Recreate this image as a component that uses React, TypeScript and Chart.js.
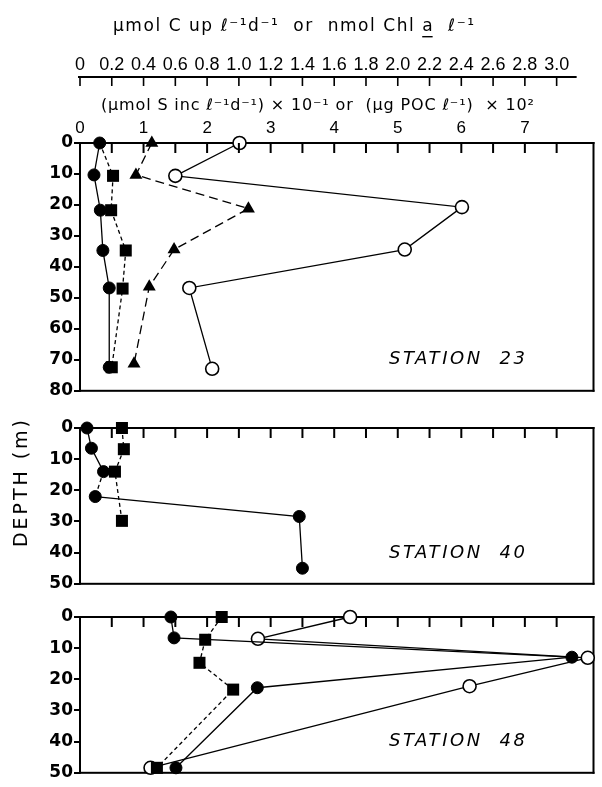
import React, { useEffect, useRef } from "react";
import { Chart, registerables } from "chart.js";

Chart.register(...registerables);

// ---------- scale / tick definitions ----------
const X_MAX = 8.08; // lower-scale units spanned by the frame
const UPPER_RATIO = 2.5; // lower units per upper unit (3.0 upper = 7.5 lower)
const lowerTickStep = 0.5;
const upperTickStep = 0.2;
const upperTickMax = 3.0;
const lowerLabelMax = 7;
const innerTickValues = [0.5, 1, 1.5, 2, 2.5, 3, 3.5, 4, 4.5, 5, 5.5, 6, 6.5, 7, 7.5];
const depthStep = 10;
const depthMax23 = 80;
const depthMax40 = 50;
const depthMax48 = 50;

// ---------- texts ----------
const upperTitleParts = ["μmol C up ℓ⁻¹d⁻¹  or  nmol Chl ", "a", "  ℓ⁻¹"];
const lowerTitle = "(μmol S inc ℓ⁻¹d⁻¹) × 10⁻¹ or  (μg POC ℓ⁻¹)  × 10²";
const depthTitle = "DEPTH (m)";
const stationNames = ["STATION  23", "STATION  40", "STATION  48"];

// ---------- data (x = value on lower scale, y = depth m) ----------
// Station 23
const st23CircleDepth = [0, 10.3, 21.7, 34.7, 46.8, 72.4];
const st23CircleValue = [0.31, 0.22, 0.32, 0.36, 0.46, 0.46];
const st23SquareDepth = [0, 10.6, 21.7, 34.7, 47, 72.4];
const st23SquareValue = [0.31, 0.52, 0.49, 0.72, 0.67, 0.5];
const st23TriangleDepth = [0, 10.3, 21.2, 34.4, 46.4, 71.3];
const st23TriangleValue = [1.13, 0.88, 2.65, 1.48, 1.09, 0.85];
const st23OpenDepth = [0, 10.6, 20.7, 34.4, 46.8, 72.9];
const st23OpenValue = [2.51, 1.5, 6.01, 5.11, 1.72, 2.08];
// Station 40
const st40CircleDepth = [0, 6.5, 14, 22, 28.4, 45];
const st40CircleValue = [0.11, 0.18, 0.37, 0.24, 3.45, 3.5];
const st40SquareDepth = [0, 6.8, 14, 29.8];
const st40SquareValue = [0.66, 0.69, 0.55, 0.66];
// Station 48
const st48CircleDepth = [0, 6.7, 12.9, 22.7, 48.4];
const st48CircleValue = [1.43, 1.48, 7.74, 2.79, 1.51];
const st48OpenDepth = [0, 7, 13.1, 22.2, 48.4];
const st48OpenValue = [4.25, 2.8, 7.99, 6.13, 1.11];
const st48SquareDepth = [0, 7.3, 14.7, 23.3, 48.4];
const st48SquareValue = [2.23, 1.97, 1.88, 2.41, 1.21];

const FONT = "'Liberation Sans', Arial, sans-serif";
const DJ = "'DejaVu Sans', sans-serif";

function pts(values: number[], depths: number[]) {
  return values.map((v, i) => ({ x: v, y: depths[i] }));
}

function filledCircle(values: number[], depths: number[], extra: any = {}) {
  return {
    data: pts(values, depths),
    showLine: true,
    borderColor: "#000",
    borderWidth: 1.3,
    pointStyle: "circle",
    pointRadius: 6,
    pointBackgroundColor: "#000",
    pointBorderColor: "#000",
    pointBorderWidth: 1,
    clip: false,
    fill: false,
    ...extra,
  };
}
function openCircle(values: number[], depths: number[], extra: any = {}) {
  return {
    data: pts(values, depths),
    showLine: true,
    borderColor: "#000",
    borderWidth: 1.3,
    pointStyle: "circle",
    pointRadius: 6.5,
    pointBackgroundColor: "#fff",
    pointBorderColor: "#000",
    pointBorderWidth: 1.6,
    clip: false,
    fill: false,
    ...extra,
  };
}
function square(values: number[], depths: number[], extra: any = {}) {
  return {
    data: pts(values, depths),
    showLine: true,
    borderColor: "#000",
    borderWidth: 1.3,
    borderDash: [4, 3],
    pointStyle: "rect",
    pointRadius: 8.5,
    pointBackgroundColor: "#000",
    pointBorderColor: "#000",
    pointBorderWidth: 0,
    clip: false,
    fill: false,
    ...extra,
  };
}
function triangle(values: number[], depths: number[], extra: any = {}) {
  return {
    data: pts(values, depths),
    showLine: true,
    borderColor: "#000",
    borderWidth: 1.3,
    borderDash: [9, 5],
    pointStyle: "triangle",
    pointRadius: 7.5,
    pointBackgroundColor: "#000",
    pointBorderColor: "#000",
    pointBorderWidth: 0,
    clip: false,
    fill: false,
    ...extra,
  };
}

function drawSpread(ctx: CanvasRenderingContext2D, text: string, x0: number, x1: number, y: number, font: string) {
  const c: any = ctx;
  ctx.font = font;
  c.letterSpacing = "0px";
  const w = ctx.measureText(text).width;
  const n = Array.from(text).length;
  const ls = n > 1 ? (x1 - x0 - w) / (n - 1) : 0;
  c.letterSpacing = ls + "px";
  ctx.textAlign = "left";
  ctx.textBaseline = "middle";
  ctx.fillStyle = "#000";
  ctx.fillText(text, x0, y);
  c.letterSpacing = "0px";
  return ls;
}

function yAxis(max: number) {
  return {
    type: "linear",
    position: "left",
    reverse: true,
    min: 0,
    max,
    grid: { display: true, drawOnChartArea: false, drawTicks: true, tickLength: 6, color: "#000", lineWidth: 2 },
    border: { display: false },
    ticks: {
      stepSize: depthStep,
      color: "#000",
      padding: 1,
      font: { family: DJ, size: 17, weight: "bold" },
    },
    afterFit: (s: any) => {
      s.width = 80;
    },
  };
}

function framePlugin(stationIndex: number, labelY: number) {
  return {
    id: "frame" + stationIndex,
    beforeDatasetsDraw(chart: any) {
      const { ctx, chartArea: a } = chart;
      ctx.save();
      ctx.fillStyle = "#000";
      ctx.fillRect(a.left - 1, a.top - 1, a.right - a.left + 2, 2);
      ctx.fillRect(a.left - 1, a.bottom - 1, a.right - a.left + 2, 2);
      ctx.fillRect(a.left - 1, a.top - 1, 2, a.bottom - a.top + 2);
      ctx.fillRect(a.right - 1, a.top - 1, 2, a.bottom - a.top + 2);
      ctx.restore();
    },
    afterDraw(chart: any) {
      const { ctx, chartArea: a } = chart;
      const xs = chart.scales.x;
      ctx.save();
      ctx.fillStyle = "#000";
      for (const v of innerTickValues) {
        const px = xs.getPixelForValue(v);
        ctx.fillRect(px - 1, a.top, 2, 10);
      }
      drawSpread(ctx, stationNames[stationIndex], 389, 525, labelY, `oblique 18px ${DJ}`);
      ctx.restore();
    },
  };
}

const topAxesPlugin = {
  id: "topAxes",
  afterDraw(chart: any) {
    const { ctx } = chart;
    const x2 = chart.scales.x2;
    const yLine = x2.bottom;
    ctx.save();
    ctx.fillStyle = "#000";
    const xs = x2.getPixelForValue(0) - 2;
    const xe = x2.getPixelForValue(upperTickMax) + 20;
    ctx.fillRect(xs, yLine - 1, xe - xs, 2);
    for (const t of x2.ticks) {
      if (t.value > upperTickMax + 1e-6) continue;
      const px = x2.getPixelForValue(t.value);
      ctx.fillRect(px - 0.8, yLine, 1.6, 9);
    }
    // upper title with underlined "a"
    const font = `17px ${DJ}`;
    const full = upperTitleParts.join("");
    const x0 = 113;
    const ls = drawSpread(ctx, full, x0, 474, 27, font);
    ctx.font = font;
    (ctx as any).letterSpacing = "0px";
    const pre = upperTitleParts[0];
    const preW = ctx.measureText(pre).width + Array.from(pre).length * ls;
    const aW = ctx.measureText(upperTitleParts[1]).width;
    ctx.fillRect(x0 + preW, 36, aW, 1.4);
    // lower title
    drawSpread(ctx, lowerTitle, 101, 534, 106, `16px ${DJ}`);
    ctx.restore();
  },
};

const depthTitlePlugin = {
  id: "depthTitle",
  afterDraw(chart: any) {
    const { ctx } = chart;
    ctx.save();
    ctx.translate(22, 139);
    ctx.rotate(-Math.PI / 2);
    drawSpread(ctx, depthTitle, 0, 127, 0, `19px ${DJ}`);
    ctx.restore();
  },
};

function baseOptions(scales: any, padding: any) {
  return {
    responsive: false,
    animation: false,
    devicePixelRatio: 1,
    events: [],
    layout: { padding },
    plugins: { legend: { display: false }, tooltip: { enabled: false }, title: { display: false } },
    scales,
  };
}

function hiddenX() {
  return {
    type: "linear",
    position: "top",
    min: 0,
    max: X_MAX,
    display: false,
  };
}

export default function App() {
  const c1 = useRef<HTMLCanvasElement>(null);
  const c2 = useRef<HTMLCanvasElement>(null);
  const c3 = useRef<HTMLCanvasElement>(null);

  useEffect(() => {
    const lowerLabel = (v: number) => {
      const r = Math.round(v);
      return Math.abs(v - r) < 1e-6 && r <= lowerLabelMax ? String(r) : "";
    };
    const upperLabel = (v: number) => {
      const r = Math.round(v * 10) / 10;
      if (r > upperTickMax + 1e-6) return "";
      return r === 0 ? "0" : r.toFixed(1);
    };

    const chart1 = new Chart(c1.current as HTMLCanvasElement, {
      type: "line",
      data: {
        datasets: [
          filledCircle(st23CircleValue, st23CircleDepth),
          square(st23SquareValue, st23SquareDepth, {
            pointRadius: (ctx: any) => (ctx.dataIndex === 0 ? 0 : 8.5),
          }),
          triangle(st23TriangleValue, st23TriangleDepth),
          openCircle(st23OpenValue, st23OpenDepth),
        ] as any,
      },
      options: baseOptions(
        {
          x: {
            type: "linear",
            position: "top",
            min: 0,
            max: X_MAX,
            weight: 0,
            grid: { display: false, drawTicks: false },
            border: { display: false },
            ticks: {
              stepSize: lowerTickStep,
              autoSkip: false,
              includeBounds: false,
              maxRotation: 0,
              padding: 4,
              color: "#000",
              font: { family: FONT, size: 17 },
              callback: lowerLabel,
            },
            afterFit: (s: any) => {
              s.height = 66;
            },
          },
          x2: {
            type: "linear",
            position: "top",
            min: 0,
            max: X_MAX / UPPER_RATIO,
            weight: 10,
            grid: { display: false, drawTicks: false },
            border: { display: false },
            ticks: {
              stepSize: upperTickStep,
              autoSkip: false,
              includeBounds: false,
              maxRotation: 0,
              padding: 1,
              color: "#000",
              font: { family: FONT, size: 18 },
              callback: upperLabel,
            },
            afterFit: (s: any) => {
              s.height = 77;
            },
          },
          y: yAxis(depthMax23),
        },
        { top: 0, left: 0, right: 4, bottom: 10 }
      ) as any,
      plugins: [framePlugin(0, 359), topAxesPlugin] as any,
    });

    const chart2 = new Chart(c2.current as HTMLCanvasElement, {
      type: "line",
      data: {
        datasets: [
          filledCircle(st40CircleValue, st40CircleDepth, {
            segment: { borderDash: (ctx: any) => (ctx.p0DataIndex === 2 ? [4, 3] : undefined) },
          }),
          square(st40SquareValue, st40SquareDepth),
        ] as any,
      },
      options: baseOptions({ x: hiddenX(), y: yAxis(depthMax40) }, { top: 20, left: 0, right: 4, bottom: 11 }) as any,
      plugins: [framePlugin(1, 145), depthTitlePlugin] as any,
    });

    const chart3 = new Chart(c3.current as HTMLCanvasElement, {
      type: "line",
      data: {
        datasets: [
          filledCircle(st48CircleValue, st48CircleDepth),
          square(st48SquareValue, st48SquareDepth),
          openCircle(st48OpenValue, st48OpenDepth),
        ] as any,
      },
      options: baseOptions({ x: hiddenX(), y: yAxis(depthMax48) }, { top: 20, left: 0, right: 4, bottom: 11 }) as any,
      plugins: [framePlugin(2, 144)] as any,
    });

    return () => {
      chart1.destroy();
      chart2.destroy();
      chart3.destroy();
    };
  }, []);

  return (
    <div style={{ position: "absolute", left: 0, top: 0, width: 602, height: 787, background: "#fff", overflow: "hidden" }}>
      <canvas ref={c1} width={602} height={402} style={{ position: "absolute", left: 0, top: 0, display: "block" }} />
      <canvas ref={c2} width={602} height={187} style={{ position: "absolute", left: 0, top: 408, display: "block" }} />
      <canvas ref={c3} width={602} height={187} style={{ position: "absolute", left: 0, top: 597, display: "block" }} />
    </div>
  );
}
